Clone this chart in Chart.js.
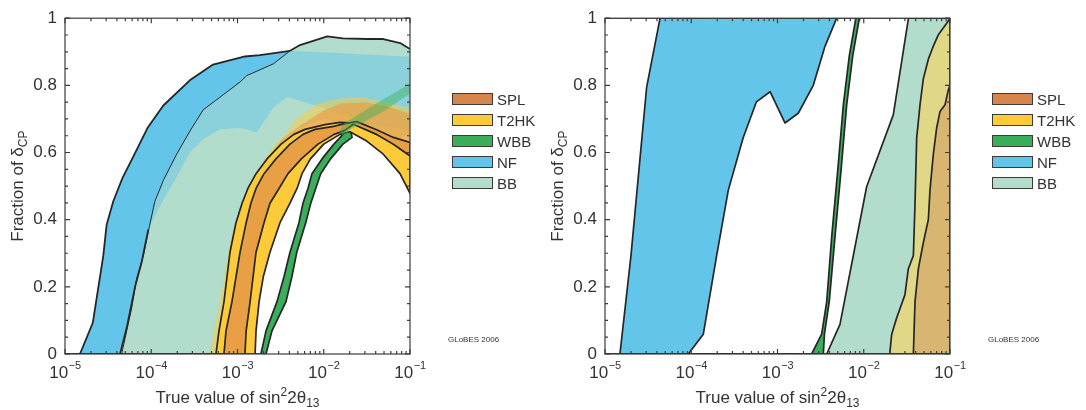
<!DOCTYPE html>
<html>
<head>
<meta charset="utf-8">
<script src="https://cdn.jsdelivr.net/npm/chart.js@4/dist/chart.umd.min.js"></script>
<style>
  html, body { margin: 0; padding: 0; background: #fff; }
  #wrap { position: relative; width: 1086px; height: 410px; font-family: "Liberation Sans", Arial, sans-serif; color: #333; }
  canvas { position: absolute; top: 0; }
  .legend { position: absolute; top: 93px; }
  .legend .row { position: relative; height: 21px; }
  .legend .box { position: absolute; left: 0; top: 0; width: 39px; height: 10px; border: 1.5px solid #3a3a3a; }
  .legend .lab { position: absolute; left: 45px; top: -2px; font-size: 15px; line-height: 17px; white-space: nowrap; }
</style>
</head>
<body>
<div id="wrap">
  <canvas id="leftChart" width="540" height="410" style="left:0"></canvas>
  <canvas id="rightChart" width="546" height="410" style="left:540px"></canvas>
  <div class="legend" id="legendLeft" style="left:452px"></div>
  <div class="legend" id="legendRight" style="left:992px"></div>
</div>
<script>
// axis ranges and ticks
const xMin = 1e-5, xMax = 1e-1;
const xExponents = [-5, -4, -3, -2, -1];
const yTickValues = [0, 0.2, 0.4, 0.6, 0.8, 1];

const legendNames = ['SPL', 'T2HK', 'WBB', 'NF', 'BB'];
const legendColors = ['#D6854C', '#FDCB38', '#3BAE5B', '#61C5EB', '#B3DCCB'];

// ---- left panel: [sin^2 2theta13, fraction of deltaCP] ----
const nfUpperL = [[1e-5,0],[1.49e-5,0],[2.1e-5,0.093],[2.78e-5,0.293],[3.04e-5,0.385],[3.63e-5,0.455],[4.6e-5,0.522],[6.4e-5,0.595],[9.0e-5,0.672],[1.38e-4,0.74],[2.8e-4,0.815],[5.2e-4,0.862],[1.22e-3,0.886],[1.82e-3,0.89],[4.07e-3,0.903],[1.3e-2,0.897],[0.1,0.885]];
const nfLowerL = [[1e-5,0],[4.35e-5,0],[5.19e-5,0.078],[6.49e-5,0.2],[7.75e-5,0.274],[9.25e-5,0.371],[1.15e-4,0.42],[1.38e-4,0.459],[1.97e-4,0.527],[2.8e-4,0.6],[4.0e-4,0.64],[6.3e-4,0.669],[1.07e-3,0.674],[1.68e-3,0.66],[2.58e-3,0.733],[3.75e-3,0.765],[7.5e-3,0.742],[1.5e-2,0.72],[3.0e-2,0.69],[0.1,0.665]];
const bbUpperL = [[4.54e-5,0],[5.93e-5,0.137],[6.78e-5,0.225],[8.1e-5,0.293],[9.7e-5,0.39],[1.1e-4,0.454],[1.38e-4,0.517],[1.97e-4,0.595],[2.81e-4,0.664],[4.0e-4,0.727],[1.07e-3,0.81],[1.28e-3,0.829],[2.6e-3,0.864],[4.07e-3,0.903],[5.3e-3,0.92],[1.1e-2,0.946],[1.67e-2,0.94],[3.2e-2,0.938],[4.9e-2,0.938],[7.7e-2,0.926],[0.1,0.908]];
const bbLowerL = [[5.6e-4,0],[6.8e-4,0.156],[8.5e-4,0.332],[1.1e-3,0.43],[1.5e-3,0.51],[2.2e-3,0.575],[3.3e-3,0.635],[5.3e-3,0.675],[1.0e-2,0.7],[2.0e-2,0.683],[5.3e-2,0.634],[0.1,0.654]];
const t2hkUpperL = [[1e-5,0],[5.63e-4,0],[6.1e-4,0.069],[6.97e-4,0.156],[8.18e-4,0.303],[9.61e-4,0.391],[1.13e-3,0.449],[1.32e-3,0.493],[1.64e-3,0.537],[2.2e-3,0.581],[3.2e-3,0.625],[4.5e-3,0.654],[6.07e-3,0.669],[1.03e-2,0.683],[1.54e-2,0.69],[2.0e-2,0.688],[2.41e-2,0.683],[4.1e-2,0.654],[6.4e-2,0.625],[0.1,0.59]];
const t2hkLowerL = [[1e-5,0],[1.6e-3,0],[1.64e-3,0.069],[1.78e-3,0.156],[1.99e-3,0.23],[2.38e-3,0.303],[3.11e-3,0.391],[4.06e-3,0.449],[4.9e-3,0.493],[5.6e-3,0.537],[7.0e-3,0.581],[1.0e-2,0.625],[1.54e-2,0.654],[2.01e-2,0.662],[3.15e-2,0.634],[4.9e-2,0.595],[7.66e-2,0.537],[0.1,0.478]];
const splUpperL = [[1e-5,0],[6.97e-4,0],[7.36e-4,0.069],[8.63e-4,0.156],[1.07e-3,0.303],[1.26e-3,0.391],[1.43e-3,0.449],[1.64e-3,0.493],[2.03e-3,0.537],[2.79e-3,0.581],[4.06e-3,0.625],[5.75e-3,0.654],[7.92e-3,0.669],[1.3e-2,0.678],[1.76e-2,0.686],[2.41e-2,0.692],[4.1e-2,0.668],[6.4e-2,0.645],[0.1,0.63]];
const splLowerL = [[1e-5,0],[1.22e-3,0],[1.26e-3,0.069],[1.40e-3,0.156],[1.64e-3,0.303],[2.03e-3,0.391],[2.38e-3,0.449],[3.03e-3,0.493],[3.85e-3,0.537],[5.5e-3,0.581],[8.57e-3,0.625],[1.32e-2,0.654],[1.76e-2,0.666],[2.2e-2,0.684],[4.1e-2,0.654],[6.4e-2,0.625],[0.1,0.59]];
const wbbUpperL = [[1e-5,0],[1.87e-3,0],[2.14e-3,0.069],[2.87e-3,0.156],[3.46e-3,0.23],[4.06e-3,0.303],[5.16e-3,0.391],[5.74e-3,0.449],[6.56e-3,0.493],[7.3e-3,0.537],[9.55e-3,0.581],[1.31e-2,0.625],[1.67e-2,0.654],[2.01e-2,0.677]];
const wbbLowerL = [[1e-5,0],[2.14e-3,0],[2.51e-3,0.069],[3.65e-3,0.156],[4.27e-3,0.23],[4.87e-3,0.303],[6.18e-3,0.391],[7.07e-3,0.449],[8.07e-3,0.493],[9.22e-3,0.537],[1.2e-2,0.581],[1.67e-2,0.625],[2.13e-2,0.645]];
// faded (second setting) bands, drawn translucent
const fadedT2hkUpperL = [[4.8e-4,0],[5.3e-4,0.069],[6.26e-4,0.156],[8.2e-4,0.332],[1.07e-3,0.43],[1.45e-3,0.51],[1.9e-3,0.566],[2.72e-3,0.625],[3.56e-3,0.654],[4.6e-3,0.695],[5.3e-3,0.71],[6.6e-3,0.725],[9.05e-3,0.748],[1.54e-2,0.761],[2.63e-2,0.766],[4.1e-2,0.756],[7.0e-2,0.742],[0.1,0.732]];
const fadedSplUpperL = [[6.0e-4,0],[7.0e-4,0.156],[8.5e-4,0.33],[1.1e-3,0.43],[1.5e-3,0.51],[2.2e-3,0.58],[3.3e-3,0.64],[5.3e-3,0.68],[1.0e-2,0.725],[1.54e-2,0.745],[3.0e-2,0.75],[5.9e-2,0.735],[0.1,0.715]];
const fadedWbbUpperL = [[1.5e-2,0.66],[1.69e-2,0.686],[4.1e-2,0.747],[0.1,0.805]];
const fadedWbbLowerL = [[1.75e-2,0.645],[2.0e-2,0.668],[4.9e-2,0.722],[0.1,0.776]];

// ---- right panel ----
const nfLeftR = [[1e-5,0],[1.49e-5,0],[2.0e-5,0.293],[3.04e-5,0.795],[4.35e-5,1]];
const nfRightR = [[9.25e-5,0],[1.38e-4,0.059],[1.97e-4,0.293],[2.69e-4,0.488],[4.0e-4,0.644],[5.7e-4,0.751],[8.2e-4,0.781],[1.22e-3,0.688],[1.74e-3,0.717],[2.6e-3,0.8],[3.56e-3,0.917],[4.85e-3,1]];
const wbbLeftR = [[2.49e-3,0],[3.25e-3,0.059],[3.72e-3,0.156],[4.26e-3,0.352],[4.99e-3,0.546],[5.8e-3,0.742],[6.8e-3,0.888],[8.1e-3,1]];
const wbbRightR = [[3.4e-3,0],[3.5e-3,0.059],[3.98e-3,0.156],[4.65e-3,0.352],[5.45e-3,0.546],[6.34e-3,0.742],[7.45e-3,0.888],[8.9e-3,1]];
const bbLeftR = [[3.72e-3,0],[5.3e-3,0.088],[1.08e-2,0.498],[2.2e-2,0.712],[3.3e-2,1],[0.1,1],[0.1,0]];
const t2hkLeftR = [[2.0e-2,0],[2.11e-2,0.059],[2.41e-2,0.108],[3.0e-2,0.176],[3.29e-2,0.254],[3.76e-2,0.293],[3.93e-2,0.449],[4.11e-2,0.644],[4.49e-2,0.742],[4.91e-2,0.82],[5.61e-2,0.878],[6.41e-2,0.917],[7.33e-2,0.951],[9.16e-2,0.985],[0.1,1],[0.1,0]];
const splLeftR = [[3.76e-2,0],[3.93e-2,0.156],[4.3e-2,0.254],[4.91e-2,0.332],[5.61e-2,0.4],[5.86e-2,0.488],[6.41e-2,0.595],[7.0e-2,0.673],[7.66e-2,0.722],[8.75e-2,0.742],[9.55e-2,0.786],[0.1,0.8],[0.1,0]];
const edgeR = [[1e-5,0],[0.1,0]];
const topR = [[1e-5,1],[0.1,1]];

const FONT = '"Liberation Sans", Arial, sans-serif';
const BLUE = '#63C5EA', TEAL = '#B2DCCC', YELLOW = '#FDCB3A', ORANGE = '#E9A045', GREEN = '#39AF5B';
const INK = '#262626';

const pts = a => a.map(p => ({ x: p[0], y: p[1] }));
const band = (upper, lower) => upper.concat(lower.slice().reverse(), [upper[0]]);
const closed = a => a.concat([a[0]]);

function area(points, color, outline) {
    return {
        data: pts(points),
        backgroundColor: color,
        borderColor: outline ? INK : 'rgba(0,0,0,0)',
        borderWidth: outline ? 1.7 : 0.01,
        borderJoinStyle: 'round',
        fill: 'shape',
        pointRadius: 0,
        tension: 0
    };
}
function stroke(points, width) {
    return {
        data: pts(points),
        borderColor: INK,
        borderWidth: width,
        borderJoinStyle: 'round',
        fill: false,
        pointRadius: 0,
        tension: 0
    };
}

const framePlugin = {
    id: 'frame',
    afterDraw(chart) {
        const { ctx, chartArea: a, scales: { x, y } } = chart;
        ctx.save();
        ctx.strokeStyle = '#3c3c3c';
        ctx.lineWidth = 1.2;
        ctx.strokeRect(a.left, a.top, a.right - a.left, a.bottom - a.top);
        ctx.beginPath();
        for (let e = -5; e <= -1; e++) {
            for (let m = 1; m <= 9; m++) {
                const v = m * Math.pow(10, e);
                if (v > xMax * 1.0001) break;
                const px = x.getPixelForValue(v);
                const len = m === 1 ? 5 : 3;
                ctx.moveTo(px, a.bottom); ctx.lineTo(px, a.bottom - len);
                ctx.moveTo(px, a.top); ctx.lineTo(px, a.top + len);
            }
        }
        for (let i = 0; i <= 20; i++) {
            const py = y.getPixelForValue(i * 0.05);
            const len = i % 4 === 0 ? 5 : 3;
            ctx.moveTo(a.left, py); ctx.lineTo(a.left + len, py);
            ctx.moveTo(a.right, py); ctx.lineTo(a.right - len, py);
        }
        ctx.stroke();

        // x tick labels 10^n
        ctx.fillStyle = '#333';
        ctx.textAlign = 'left';
        ctx.textBaseline = 'alphabetic';
        for (const e of xExponents) {
            const px = x.getPixelForValue(Math.pow(10, e));
            const sup = '\u2212' + Math.abs(e);
            ctx.font = '17px ' + FONT;
            const w1 = ctx.measureText('10').width;
            ctx.font = '11px ' + FONT;
            const w2 = ctx.measureText(sup).width;
            const left = px - (w1 + w2) / 2;
            ctx.font = '17px ' + FONT;
            ctx.fillText('10', left, 378);
            ctx.font = '11px ' + FONT;
            ctx.fillText(sup, left + w1 + 0.5, 369);
        }

        // x title: True value of sin^2 2theta_13
        const xParts = [['True value of sin', 17, 0], ['2', 12, -7], ['2\u03b8', 17, 0], ['13', 12, 4]];
        let total = 0;
        for (const p of xParts) { ctx.font = p[1] + 'px ' + FONT; total += ctx.measureText(p[0]).width; }
        let cx = (a.left + a.right) / 2 - total / 2;
        for (const p of xParts) {
            ctx.font = p[1] + 'px ' + FONT;
            ctx.fillText(p[0], cx, 403 + p[2]);
            cx += ctx.measureText(p[0]).width;
        }

        // y title: Fraction of delta_CP
        const yParts = [['Fraction of \u03b4', 17, 0], ['CP', 12, 4]];
        total = 0;
        for (const p of yParts) { ctx.font = p[1] + 'px ' + FONT; total += ctx.measureText(p[0]).width; }
        ctx.translate(17, (a.top + a.bottom) / 2);
        ctx.rotate(-Math.PI / 2);
        cx = -total / 2;
        for (const p of yParts) {
            ctx.font = p[1] + 'px ' + FONT;
            ctx.fillText(p[0], cx, 6 + p[2]);
            cx += ctx.measureText(p[0]).width;
        }
        ctx.setTransform(1, 0, 0, 1, 0, 0);

        ctx.font = '8px ' + FONT;
        ctx.fillText('GLoBES 2006', a.right + 38, 342);
        ctx.restore();
    }
};

function makeChart(id, width, layers) {
    // Chart.js paints the first dataset last, so reverse the bottom-to-top list
    const datasets = layers.slice().reverse();
    return new Chart(document.getElementById(id), {
        type: 'line',
        data: { datasets: datasets },
        options: {
            responsive: false,
            animation: false,
            layout: { padding: { top: 12, right: width - 410, left: 0, bottom: 0 } },
            plugins: {
                legend: { display: false },
                tooltip: { enabled: false }
            },
            scales: {
                x: {
                    type: 'logarithmic',
                    min: xMin,
                    max: xMax,
                    grid: { display: false, drawTicks: false },
                    border: { display: false },
                    ticks: { display: false },
                    afterFit: s => { s.height = 56; }
                },
                y: {
                    min: 0,
                    max: 1,
                    grid: { display: false, drawTicks: false },
                    border: { display: false },
                    afterBuildTicks: s => { s.ticks = yTickValues.map(v => ({ value: v })); },
                    ticks: {
                        padding: 8,
                        color: '#333',
                        font: { family: FONT, size: 17 },
                        callback: v => (v === 0 || v === 1) ? String(v) : v.toFixed(1)
                    },
                    afterFit: s => { s.width = 65; }
                }
            }
        },
        plugins: [framePlugin]
    });
}

document.addEventListener('DOMContentLoaded', function () {
    const nfPoly = band(nfUpperL, nfLowerL);
    const leftLayers = [
        area(nfPoly, BLUE, false),
        area(band(bbUpperL, bbLowerL), TEAL, false),
        area(nfPoly, 'rgba(99,197,234,0.5)', false),
        area(band(fadedT2hkUpperL, t2hkLowerL), 'rgba(253,203,58,0.5)', false),
        area(band(fadedSplUpperL, t2hkLowerL), 'rgba(233,160,69,0.7)', false),
        area(band(wbbUpperL, wbbLowerL), GREEN, true),
        area(band(t2hkUpperL, t2hkLowerL), YELLOW, true),
        area(band(splUpperL, splLowerL), ORANGE, true),
        area(band(fadedWbbUpperL, fadedWbbLowerL), 'rgba(57,175,91,0.45)', false),
        stroke(nfUpperL.slice(0, 15), 1.8),
        stroke(nfLowerL.slice(0, 6), 1.8),
        stroke(bbUpperL.slice(0, 14), 1),
        stroke(bbUpperL.slice(13), 1.8)
    ];
    makeChart('leftChart', 540, leftLayers);

    const rightLayers = [
        area(closed(nfLeftR.concat(nfRightR.slice().reverse())), BLUE, true),
        area(closed(wbbLeftR.concat(wbbRightR.slice().reverse())), GREEN, true),
        area(closed(bbLeftR), TEAL, true),
        area(closed(t2hkLeftR), '#E0D886', true),
        area(closed(splLeftR), '#D8B571', true),
        stroke(edgeR, 2),
        stroke(topR, 1.8)
    ];
    makeChart('rightChart', 546, rightLayers);

    for (const id of ['legendLeft', 'legendRight']) {
        const el = document.getElementById(id);
        legendNames.forEach((name, i) => {
            const row = document.createElement('div');
            row.className = 'row';
            row.innerHTML = '<div class="box" style="background:' + legendColors[i] + '"></div><div class="lab">' + name + '</div>';
            el.appendChild(row);
        });
    }
});
</script>
</body>
</html>
